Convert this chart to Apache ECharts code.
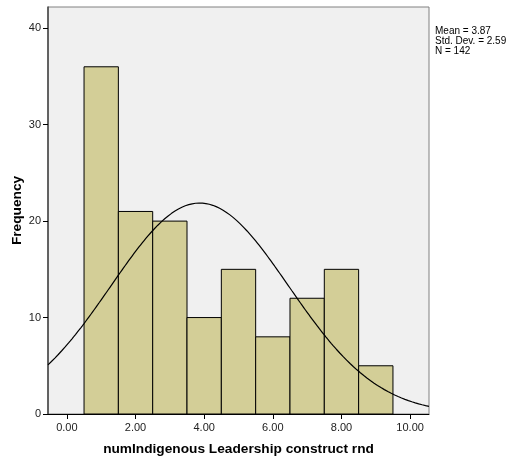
<!DOCTYPE html>
<html><head><meta charset="utf-8">
<script src="https://cdn.jsdelivr.net/npm/echarts@6/dist/echarts.min.js"></script>
<style>html,body{margin:0;padding:0;background:#fff}#c{width:507px;height:459px}</style>
</head><body><div id="c"></div>
<script>
const binCenters = [1, 2, 3, 4, 5, 6, 7, 8, 9];
const frequencies = [36, 21, 20, 10, 15, 8, 12, 15, 5];
const xTicks = [0, 2, 4, 6, 8, 10];
const yTicks = [0, 10, 20, 30, 40];
const stats = { mean: 3.87, sd: 2.59, n: 142 };
const binWidth = 1;

const xMin = -0.55, xMax = 10.55;
// fitted normal curve from the displayed statistics
const curve = [];
for (let i = 0; i <= 222; i++) {
  const x = xMin + (xMax - xMin) * i / 222;
  const z = (x - stats.mean) / stats.sd;
  curve.push([x, stats.n * binWidth / (stats.sd * Math.sqrt(2 * Math.PI)) * Math.exp(-0.5 * z * z)]);
}

const chart = echarts.init(document.getElementById('c'));
const font = 'Arial, "Liberation Sans", sans-serif';
chart.setOption({
  animation: false,
  grid: { left: 48, top: 7, right: 78, bottom: 45, outerBoundsMode: 'none', containLabel: false,
    show: true, backgroundColor: '#f0f0f0', borderColor: '#808080', borderWidth: 1 },
  xAxis: {
    type: 'value', min: xMin, max: xMax,
    name: 'numIndigenous Leadership construct rnd', nameLocation: 'middle', nameGap: 28,
    nameTextStyle: { fontFamily: font, fontWeight: 'bold', fontSize: 13.7, color: '#000' },
    splitLine: { show: false },
    axisLine: { onZero: false, lineStyle: { color: '#000', width: 1 } },
    axisTick: { customValues: xTicks, length: 5, lineStyle: { color: '#000' } },
    axisLabel: { customValues: xTicks, formatter: v => v.toFixed(2), fontFamily: font, fontSize: 11, color: '#222', margin: 8 }
  },
  yAxis: {
    type: 'value', min: 0, max: 42.2,
    name: 'Frequency', nameLocation: 'middle', nameGap: 24, nameMoveOverlap: false,
    nameTextStyle: { fontFamily: font, fontWeight: 'bold', fontSize: 13.7, color: '#000' },
    splitLine: { show: false },
    axisLine: { show: true, onZero: false, lineStyle: { color: '#444', width: 1.5 } },
    axisTick: { show: true, customValues: yTicks, length: 5, lineStyle: { color: '#000' } },
    axisLabel: { customValues: yTicks, fontFamily: font, fontSize: 11, color: '#222', margin: 7 }
  },
  graphic: [{
    type: 'text', left: 435, top: 26,
    style: { text: 'Mean = 3.87\nStd. Dev. = 2.59\nN = 142', font: '10px ' + font, fill: '#000', lineHeight: 10 }
  }],
  series: [{
    type: 'custom',
    data: binCenters.map((c, i) => [c, frequencies[i]]),
    renderItem: function (params, api) {
      const c = api.value(0), f = api.value(1);
      const p1 = api.coord([c - binWidth / 2, f]);
      const p2 = api.coord([c + binWidth / 2, 0]);
      return { type: 'rect', shape: { x: p1[0], y: p1[1], width: p2[0] - p1[0], height: p2[1] - p1[1] },
        style: { fill: '#d3ce97', stroke: '#000', lineWidth: 1 } };
    },
    z: 2
  }, {
    type: 'line', data: curve, showSymbol: false, smooth: false,
    lineStyle: { color: '#000', width: 1.2 }, z: 3, clip: true
  }]
});
</script></body></html>
